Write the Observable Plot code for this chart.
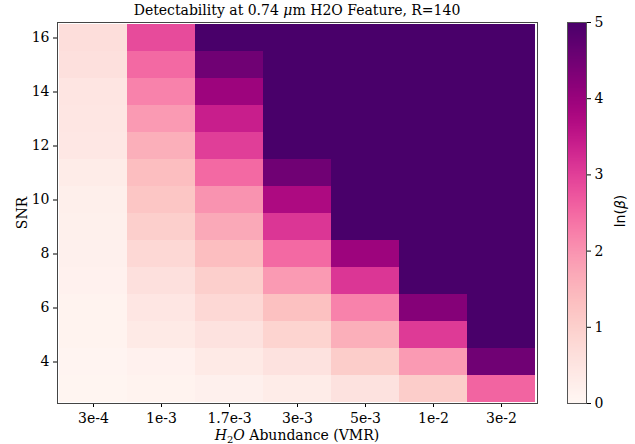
<!DOCTYPE html>
<html><head><meta charset="utf-8">
<script src="https://cdn.jsdelivr.net/npm/d3@7"></script>
<script src="https://cdn.jsdelivr.net/npm/@observablehq/plot@0.6"></script>
<style>
body{margin:0;background:#fff;}
#wrap{position:relative;width:635px;height:444px;font-family:"DejaVu Serif",serif;color:#000;}
#wrap svg{position:absolute;top:0;}
.title{position:absolute;left:57px;width:480px;top:2px;text-align:center;font-size:14px;line-height:16px;}
.xlabel{position:absolute;left:57px;width:480px;top:427px;text-align:center;font-size:14px;line-height:17px;}
.xlabel sub{font-size:10px;vertical-align:-3px;line-height:0;}
.cblabel{position:absolute;left:590px;top:202px;width:60px;text-align:center;font-family:"DejaVu Sans",sans-serif;font-size:14px;line-height:18px;transform:rotate(-90deg);}
</style></head><body><div id="wrap">
<div class="title">Detectability at 0.74 <i>μ</i>m H2O Feature, R=140</div>
<div class="xlabel"><i>H</i><sub>2</sub><i>O</i> Abundance (VMR)</div>
<div class="cblabel">ln(<i>β</i>)</div>
</div>
<script>
// Categories
const abundances = ["3e-4","1e-3","1.7e-3","3e-3","5e-3","1e-2","3e-2"];
const snrLevels = [3,4,5,6,7,8,9,10,11,12,13,14,15,16];
const yTicks = [4,6,8,10,12,14,16];
const cbTicks = [0,1,2,3,4,5];
// ln(beta) values per abundance column, in SNR order 3..16
const v3e4   = [0.06,0.07,0.10,0.12,0.15,0.18,0.20,0.22,0.30,0.42,0.45,0.48,0.60,0.65];
const v1e3   = [0.12,0.15,0.35,0.45,0.60,0.80,1.00,1.20,1.35,1.60,1.90,2.20,2.50,2.85];
const v17e3  = [0.18,0.35,0.55,0.80,1.00,1.35,1.70,2.00,2.50,3.00,3.40,3.95,4.50,5.00];
const v3e3   = [0.30,0.55,0.90,1.30,1.90,2.50,3.10,3.75,4.50,5,5,5,5,5];
const v5e3   = [0.55,1.05,1.60,2.20,3.10,3.95,5,5,5,5,5,5,5,5];
const v1e2   = [1.05,1.90,3.05,4.25,5,5,5,5,5,5,5,5,5,5];
const v3e2   = [2.55,4.50,5,5,5,5,5,5,5,5,5,5,5,5];
const columns = [v3e4,v1e3,v17e3,v3e3,v5e3,v1e2,v3e2];

const data = [];
abundances.forEach((a,i)=>snrLevels.forEach((s,j)=>data.push({x:a,snr:s,v:columns[i][j]})));

const main = Plot.plot({
  width:635,height:444,marginLeft:57,marginRight:98,marginTop:22,marginBottom:41,
  style:{fontFamily:"DejaVu Serif",fontSize:"14px",background:"transparent",color:"#000"},
  x:{type:"band",domain:abundances,padding:0,label:null,tickSize:4,tickPadding:6},
  y:{type:"band",domain:snrLevels.slice().reverse(),padding:0,ticks:yTicks,label:"SNR",labelAnchor:"center",labelOffset:40,tickSize:4,tickPadding:4},
  color:{type:"linear",scheme:"rdpu",domain:[0,5],clamp:true},
  marks:[
    Plot.cell(data,{x:"x",y:"snr",fill:"v",inset:0,shapeRendering:"crispEdges"}),
    Plot.frame({stroke:"#444"})
  ]
});
main.style.left="0px";
document.getElementById("wrap").appendChild(main);

const grad = d3.range(0,500).map(i=>({a:i/100,b:(i+1)/100,m:(i+0.5)/100}));
const cb = Plot.plot({
  width:68,height:444,marginLeft:0,marginRight:49,marginTop:22,marginBottom:41,
  style:{fontFamily:"DejaVu Serif",fontSize:"14px",background:"transparent",color:"#000"},
  x:{domain:[0,1],axis:null},
  y:{domain:[0,5],axis:"right",ticks:cbTicks,tickSize:4,tickPadding:4,label:null,tickFormat:d=>String(d)},
  color:{type:"linear",scheme:"rdpu",domain:[0,5]},
  marks:[
    Plot.rect(grad,{x1:0,x2:1,y1:"a",y2:"b",fill:"m",insetTop:-0.5,shapeRendering:"crispEdges"}),
    Plot.frame({stroke:"#555"})
  ]
});
cb.style.left="567px";
document.getElementById("wrap").appendChild(cb);
</script>
</body></html>
